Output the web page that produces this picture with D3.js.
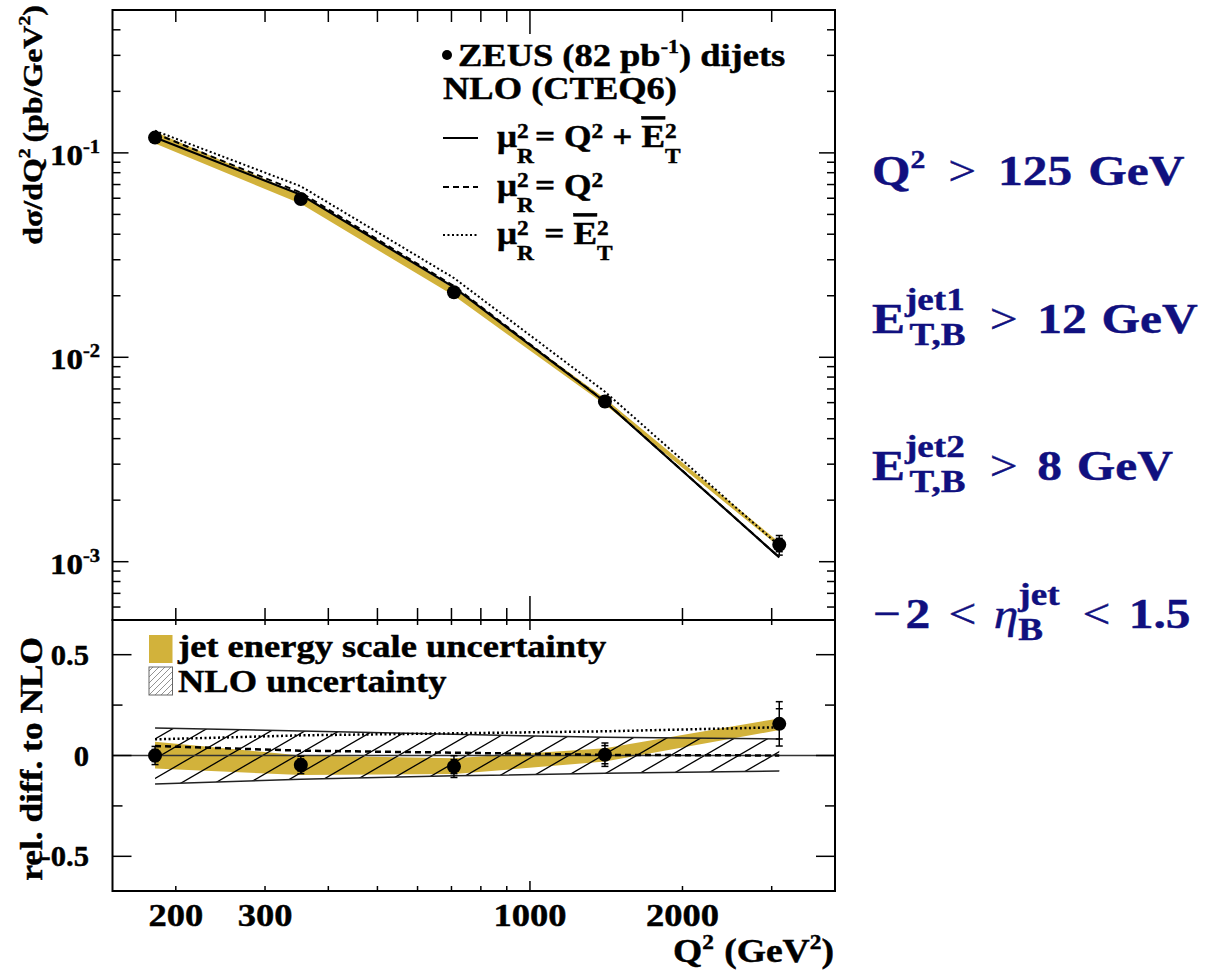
<!DOCTYPE html>
<html lang="en">
<head>
<meta charset="UTF-8">
<title>ZEUS dijets dsigma/dQ2</title>
<script src="https://d3js.org/d3.v7.min.js"></script>
<style>
  body { margin: 0; background: #fff; }
  svg { display: block; }
  text { font-family: "Liberation Serif", "Times New Roman", serif; font-weight: bold; fill: #000; }
</style>
</head>
<body>
<svg width="1210" height="976"></svg>
<script>
// Q^2 of the measured points (GeV^2)
const q2 = [182, 353, 708, 1406, 3105];
// measured d(sigma)/dQ^2 (pb/GeV^2)
const sigma = [0.1188, 0.0595, 0.0208, 0.00608, 0.00121];
// NLO prediction, mu_R^2 = Q^2 + Et^2
const nlo = [0.1188, 0.0624, 0.0220, 0.00606, 0.00105];
// relative difference data/NLO - 1
const relData = [0.0, -0.047, -0.055, 0.004, 0.157];
const statErr = [0.030, 0.030, 0.035, 0.045, 0.075];
const totErr = [0.045, 0.043, 0.054, 0.058, 0.110];
// other scale choices, relative to the central NLO
const relQ2 = [0.047, 0.024, 0.014, 0.003, 0.0];
const relEt2 = [0.080, 0.100, 0.110, 0.120, 0.140];
// NLO uncertainty band (relative)
const nloUp = [0.137, 0.121, 0.105, 0.090, 0.082];
const nloDn = [-0.141, -0.118, -0.101, -0.088, -0.077];
// jet energy scale band (relative to NLO)
const jesUp = [0.068, 0.000, -0.014, 0.036, 0.184];
const jesDn = [-0.064, -0.097, -0.092, -0.030, 0.126];

const xTickLabels = [200, 300, 1000, 2000];
const yTopDecades = [1e-1, 1e-2, 1e-3];
const yTopExps = ["-1", "-2", "-3"];
const yBotTicks = [-0.5, -0.25, 0, 0.25, 0.5];
const yBotLabels = ["-0.5", "0", "0.5"];

const gold = "#d2b23b";
const navy = "#10107f";

const svg = d3.select("svg");
const X0 = 112.5, X1 = 835, T0 = 10, T1 = 620, B1 = 891;

const x = d3.scaleLog().domain([150, 4000]).range([X0, X1]);
const yTop = d3.scaleLog().domain([5.185e-4, 0.5]).range([T1, T0]);
const yBot = d3.scaleLinear().domain([-0.672, 0.672]).range([B1, T1]);

const SX = 1.14; // the original typeface is drawn wider than Times

// small rich-text helper: strings, and {sup, sub} stacks
function rich(parent, px, py, parts, o = {}) {
  const size = o.size || 32;
  const g = parent.append("g")
    .attr("transform", `translate(${px},${py})` + (o.rotate ? ` rotate(${o.rotate})` : ""));
  const inner = g.append("g");
  let cx = 0;
  const put = (str, dx, dy, fs, p) => {
    const t = inner.append("text").attr("x", cx + dx).attr("y", dy)
      .style("font-size", fs + "px")
      .style("fill", o.fill || "#000")
      .style("stroke", o.fill || "#000").style("stroke-width", 0.45)
      .text(str);
    if (p.w) t.style("font-weight", p.w);
    if (p.it) t.style("font-style", "italic");
    if (p.ov) t.style("text-decoration", "overline");
    return t.node().getComputedTextLength();
  };
  parts.forEach(p => {
    if (typeof p === "string") p = { t: p };
    const dx = p.dx || 0;
    if (p.sup != null || p.sub != null) {
      const fs = size * (o.ss || 0.7);
      let w = 0;
      if (p.sup != null) w = Math.max(w, put(p.sup, dx, -(o.supDy ?? size * 0.4), fs, p));
      if (p.sub != null) w = Math.max(w, (p.subDx || 0) + put(p.sub, dx + (p.subDx || 0), (o.subDy ?? size * 0.3), fs, p));
      cx += dx + w;
    } else {
      cx += dx + put(p.t, dx, p.dy || 0, p.fs || size, p);
    }
  });
  const sx = o.sx || SX;
  const shift = o.anchor === "end" ? -cx : o.anchor === "middle" ? -cx / 2 : 0;
  inner.attr("transform", `scale(${sx},1) translate(${shift},0)`);
  return g;
}

const isDecade = v => Math.abs(Math.log10(v) - Math.round(Math.log10(v))) < 1e-9;

// ---------------- top panel ----------------
const topG = svg.append("g");

const band = d3.area()
  .x((d, i) => x(q2[i]))
  .y0((d, i) => yTop(nlo[i] * (1 + jesDn[i])))
  .y1((d, i) => yTop(nlo[i] * (1 + jesUp[i])));
topG.append("path").datum(q2).attr("d", band).attr("fill", gold);

const lineTop = rel => d3.line()
  .x((d, i) => x(q2[i]))
  .y((d, i) => yTop(nlo[i] * (1 + rel[i])));

topG.append("path").datum(q2).attr("d", lineTop(relEt2))
  .attr("fill", "none").attr("stroke", "#000").attr("stroke-width", 2).attr("stroke-dasharray", "2,2.5");
topG.append("path").datum(q2).attr("d", lineTop(relQ2))
  .attr("fill", "none").attr("stroke", "#000").attr("stroke-width", 2).attr("stroke-dasharray", "6,4");
topG.append("path").datum(q2).attr("d", lineTop(q2.map(() => 0)))
  .attr("fill", "none").attr("stroke", "#000").attr("stroke-width", 2.2);

function errBars(g, yOf) {
  q2.forEach((q, i) => {
    const xi = x(q);
    const [ys0, ys1, yt0, yt1] = yOf(i);
    g.append("line").attr("x1", xi).attr("x2", xi).attr("y1", yt0).attr("y2", yt1)
      .attr("stroke", "#000").attr("stroke-width", 1.5);
    [ys0, ys1, yt0, yt1].forEach(yy => g.append("line")
      .attr("x1", xi - 3.5).attr("x2", xi + 3.5).attr("y1", yy).attr("y2", yy)
      .attr("stroke", "#000").attr("stroke-width", 1.5));
  });
}
errBars(topG, i => [
  yTop(sigma[i] * (1 - statErr[i])), yTop(sigma[i] * (1 + statErr[i])),
  yTop(sigma[i] * (1 - totErr[i])), yTop(sigma[i] * (1 + totErr[i]))
]);
topG.selectAll("circle.pt").data(q2).enter().append("circle")
  .attr("cx", d => x(d)).attr("cy", (d, i) => yTop(sigma[i])).attr("r", 7).attr("fill", "#000");

// legend
topG.append("circle").attr("cx", 447).attr("cy", 55).attr("r", 5).attr("fill", "#000");
rich(topG, 458, 66, ["ZEUS (82 pb", { sup: "-1" }, ") dijets"], { ss: 0.6, supDy: 13 });
rich(topG, 443, 99, ["NLO (CTEQ6)"]);
const legRows = [
  { y: 138, dash: null, parts: ["μ", { sup: "2", sub: "R" }, { t: "= Q", dx: 1 }, { sup: "2" }, { t: "+", dx: 8 }, { t: "E", dx: 8, ov: true }, { sup: "2", sub: "T" }] },
  { y: 187, dash: "6,4", parts: ["μ", { sup: "2", sub: "R" }, { t: "= Q", dx: 1 }, { sup: "2" }] },
  { y: 235, dash: "2,2.5", parts: ["μ", { sup: "2", sub: "R" }, { t: "=", dx: 9 }, { t: "E", dx: 8, ov: true }, { sup: "2", sub: "T" }] }
];
legRows.forEach(r => {
  topG.append("line").attr("x1", 443).attr("x2", 478).attr("y1", r.y).attr("y2", r.y)
    .attr("stroke", "#000").attr("stroke-width", 2).attr("stroke-dasharray", r.dash);
  rich(topG, 497, r.y + 9, r.parts, { size: 31, ss: 0.66, supDy: 9, subDy: 16 });
});

// ---------------- bottom panel ----------------
const botG = svg.append("g");

const relArea = (lo, hi) => d3.area()
  .x((d, i) => x(q2[i]))
  .y0((d, i) => yBot(lo[i]))
  .y1((d, i) => yBot(hi[i]));

botG.append("path").datum(q2).attr("d", relArea(jesDn, jesUp)).attr("fill", gold);

// hatched NLO uncertainty band
botG.append("clipPath").attr("id", "clipHatch").append("path").datum(q2).attr("d", relArea(nloDn, nloUp));
const hatch = botG.append("g").attr("clip-path", "url(#clipHatch)");
const slope = 0.58, step = 34;
for (let hx = x(q2[0]) - 200; hx < x(q2[4]) + 20; hx += step) {
  hatch.append("line").attr("x1", hx).attr("y1", yBot(-0.2)).attr("x2", hx + (yBot(-0.2) - yBot(0.2)) / slope).attr("y2", yBot(0.2))
    .attr("stroke", "#000").attr("stroke-width", 1.3);
}
const relLine = rel => d3.line().x((d, i) => x(q2[i])).y((d, i) => yBot(rel[i]));
botG.append("path").datum(q2).attr("d", relLine(nloUp)).attr("fill", "none").attr("stroke", "#222").attr("stroke-width", 1.5);
botG.append("path").datum(q2).attr("d", relLine(nloDn)).attr("fill", "none").attr("stroke", "#222").attr("stroke-width", 1.5);

// zero line
botG.append("line").attr("x1", X0).attr("x2", X1).attr("y1", yBot(0)).attr("y2", yBot(0))
  .attr("stroke", "#333").attr("stroke-width", 1.5);
botG.append("path").datum(q2).attr("d", relLine(relQ2)).attr("fill", "none")
  .attr("stroke", "#000").attr("stroke-width", 2.5).attr("stroke-dasharray", "6,4");
botG.append("path").datum(q2).attr("d", relLine(relEt2)).attr("fill", "none")
  .attr("stroke", "#000").attr("stroke-width", 2.5).attr("stroke-dasharray", "2,2.5");

errBars(botG, i => [
  yBot(relData[i] - statErr[i]), yBot(relData[i] + statErr[i]),
  yBot(relData[i] - totErr[i]), yBot(relData[i] + totErr[i])
]);
botG.selectAll("circle.pt").data(q2).enter().append("circle")
  .attr("cx", d => x(d)).attr("cy", (d, i) => yBot(relData[i])).attr("r", 7).attr("fill", "#000");

// bottom legend
botG.append("rect").attr("x", 149).attr("y", 635).attr("width", 23.5).attr("height", 28).attr("fill", gold);
botG.append("clipPath").attr("id", "clipLeg").append("rect").attr("x", 149).attr("y", 667).attr("width", 23.5).attr("height", 28);
const lh = botG.append("g").attr("clip-path", "url(#clipLeg)");
for (let k = -4; k < 8; k++) {
  lh.append("line").attr("x1", 149 + k * 6).attr("y1", 695).attr("x2", 149 + k * 6 + 28).attr("y2", 667)
    .attr("stroke", "#777").attr("stroke-width", 0.8);
}
botG.append("rect").attr("x", 149).attr("y", 667).attr("width", 23.5).attr("height", 28)
  .attr("fill", "none").attr("stroke", "#666").attr("stroke-width", 1);
rich(botG, 178, 657, ["jet energy scale uncertainty"]);
rich(botG, 178, 692, ["NLO uncertainty"]);

// ---------------- frames & ticks ----------------
const axes = svg.append("g").attr("stroke", "#000").attr("stroke-width", 1.5);
function xTicks(yEdge, dir, major, minor) {
  x.ticks().forEach(v => {
    if (v <= 150 || v >= 4000) return;
    const L = isDecade(v) ? major : minor;
    axes.append("line").attr("x1", x(v)).attr("x2", x(v)).attr("y1", yEdge).attr("y2", yEdge + dir * L);
  });
}
xTicks(T0, 1, 24, 12);
xTicks(T1, -1, 24, 12);
xTicks(T1, 1, 10, 5);
xTicks(B1, -1, 10, 5);

yTop.ticks().forEach(v => {
  const L = isDecade(v) ? 16 : 8;
  const yy = yTop(v);
  axes.append("line").attr("x1", X0).attr("x2", X0 + L).attr("y1", yy).attr("y2", yy);
  axes.append("line").attr("x1", X1).attr("x2", X1 - L).attr("y1", yy).attr("y2", yy);
});
yBotTicks.forEach(v => {
  const L = Math.abs(v * 2 - Math.round(v * 2)) < 1e-9 ? 19 : 10;
  const yy = yBot(v);
  axes.append("line").attr("x1", X0).attr("x2", X0 + L).attr("y1", yy).attr("y2", yy);
  axes.append("line").attr("x1", X1).attr("x2", X1 - L).attr("y1", yy).attr("y2", yy);
});
svg.append("rect").attr("x", X0).attr("y", T0).attr("width", X1 - X0).attr("height", T1 - T0)
  .attr("fill", "none").attr("stroke", "#000").attr("stroke-width", 2);
svg.append("rect").attr("x", X0).attr("y", T1).attr("width", X1 - X0).attr("height", B1 - T1)
  .attr("fill", "none").attr("stroke", "#000").attr("stroke-width", 2);

// tick labels
const labels = svg.append("g");
yTopDecades.forEach((v, i) => {
  rich(labels, 100, yTop(v) + 12, ["10", { sup: yTopExps[i] }], { size: 30, sx: 1.1, anchor: "end", ss: 0.62, supDy: 12 });
});
yBotTicks.forEach(v => {
  const k = yBotLabels.indexOf(String(v));
  if (k < 0) return;
  rich(labels, 89, yBot(v) + 10, [yBotLabels[k]], { size: 30, sx: 1.02, anchor: "end" });
});
xTickLabels.forEach(v => {
  rich(labels, x(v), 926, [String(v)], { anchor: "middle" });
});

// axis titles
rich(labels, 42, 5, ["dσ/dQ", { sup: "2" }, { t: "(pb/GeV", dx: 5 }, { sup: "2" }, ")"],
  { size: 28, anchor: "end", rotate: -90, ss: 0.62, supDy: 12 });
rich(labels, 42, 637, ["rel. diff. to NLO"], { size: 31, anchor: "end", rotate: -90 });
rich(labels, 834, 962, ["Q", { sup: "2" }, { t: "(GeV", dx: 9 }, { sup: "2" }, ")"],
  { size: 33, anchor: "end", ss: 0.62, supDy: 13 });

// ---------------- cuts (right side) ----------------
const cuts = svg.append("g");
const co = { size: 43, sx: 1.15, fill: navy, ss: 0.75, supDy: 23, subDy: 12 };
rich(cuts, 872, 185, ["Q", { sup: "2" }, { t: ">", dx: 20, w: "normal" }, { t: "125", dx: 19 }, { t: "GeV", dx: 14 }],
  Object.assign({}, co, { ss: 0.6, supDy: 17 }));
rich(cuts, 872, 333, ["E", { sup: "jet1", sub: "T,B", subDx: 4 }, { t: ">", dx: 21, w: "normal" }, { t: "12", dx: 17 }, { t: "GeV", dx: 13 }], co);
rich(cuts, 872, 480, ["E", { sup: "jet2", sub: "T,B", subDx: 4 }, { t: ">", dx: 21, w: "normal" }, { t: "8", dx: 17 }, { t: "GeV", dx: 13 }], co);
rich(cuts, 873, 628, [{ t: "−", w: "normal" }, { t: "2", dx: 4 }, { t: "<", dx: 16, w: "normal" },
  { t: "η", dx: 15, w: "normal", it: true }, { sup: "jet", sub: "B" }, { t: "<", dx: 20, w: "normal" }, { t: "1.5", dx: 16 }], co);
</script>
</body>
</html>
